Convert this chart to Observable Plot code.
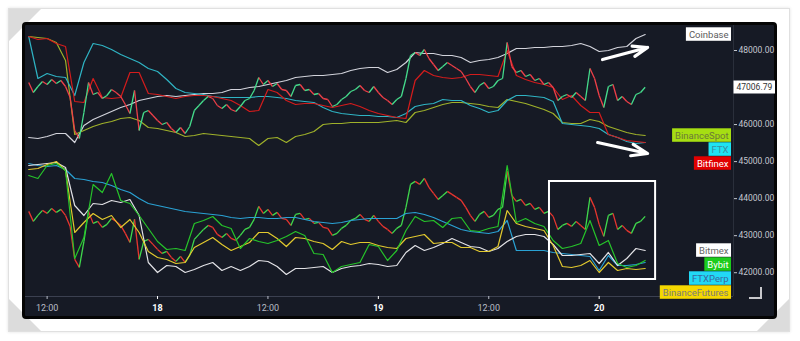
<!DOCTYPE html>
<html><head><meta charset="utf-8">
<script src="https://cdn.jsdelivr.net/npm/d3@7"></script>
<script src="https://cdn.jsdelivr.net/npm/@observablehq/plot@0.6"></script>
<style>
body{margin:0;background:#fff;}
#wrap{position:relative;width:800px;height:341px;overflow:hidden;background:#fff;font-family:Roboto,sans-serif}
.outer{position:absolute;left:8px;top:8px;width:780px;height:322px;border:1px solid #e0e0e0;box-shadow:0 0 3px rgba(0,0,0,0.12);background:#fff}
.tri{position:absolute;width:0;height:0}
.panel{position:absolute;left:22px;top:22px;width:749px;height:291px;background:#161a25;border:3px solid #050505;border-radius:4px}
#chart{position:absolute;left:0;top:0}
.ic{position:absolute;background:#c8c8cc}
</style></head><body>
<div id="wrap">
 <div class="outer"></div>
 <div class="tri" style="left:9px;top:9px;border-top:32px solid #dcdcdc;border-right:32px solid transparent"></div>
 <div class="tri" style="left:9px;top:299px;border-bottom:32px solid #dcdcdc;border-right:32px solid transparent"></div>
 <div class="tri" style="left:757px;top:299px;border-bottom:32px solid #dcdcdc;border-left:32px solid transparent"></div>
 <div class="panel"></div>
 <div id="chart"></div>
 <div class="ic" style="left:749px;top:297px;width:13px;height:2px"></div>
 <div class="ic" style="left:760px;top:287px;width:2px;height:12px"></div>
</div>
<script>
// ---- data (prices, hourly from 2022-01-17 10:00 UTC) ----
const coinbase = [45651,45624,45678,45759,45759,45516,45975,46137,46245,46353,
46461,46542,46650,46704,46758,46785,46758,46785,46812,46839,
46839,46866,46947,46947,47001,47028,47082,47136,47190,47271,
47298,47325,47325,47352,47379,47460,47514,47541,47541,47406,
47487,47676,47946,47919,47919,47865,47865,47811,47676,47730,
47757,47811,47919,48054,48054,48081,48081,48108,48108,48135,
48189,48108,47973,48000,48081,48108,48324,48432];
const binanceSpot = [48378,48351,48324,48216,47730,45732,45840,45948,46029,46083,
46164,46191,46110,45921,45894,45840,45786,45678,45705,45759,
45732,45705,45678,45651,45624,45435,45624,45651,45516,45678,
45732,45813,46002,46029,46029,46056,46056,46056,46056,46083,
46110,46056,46326,46380,46461,46542,46596,46596,46569,46542,
46488,46461,46677,46623,46569,46488,46407,46299,46056,46029,
46029,46137,46083,45948,45867,45786,45732,45705];
const ftx = [48378,47244,47379,47298,47271,46785,47676,48189,48135,48027,
47892,47784,47676,47514,47433,47217,46974,46866,46839,46812,
46758,46731,46731,46731,46731,46758,46758,46731,46704,46650,
46623,46596,46461,46353,46299,46272,46245,46245,46218,46218,
46191,46299,46488,46542,46569,46677,46650,46650,46515,46434,
46326,46380,46650,46785,46785,46758,46731,46623,46029,46002,
45975,45948,45894,45732,45651,45543,45489,45516];
const bitfinex = [48378,48297,48324,48189,48108,46623,46596,47244,46731,46704,
46731,47406,47406,46839,46812,46758,46704,46758,46785,46785,
46758,46704,46650,46515,46353,46380,46947,46866,46650,46542,
46569,46569,46515,46461,46515,46569,46488,46380,46299,46245,
46191,46164,47190,47460,47325,47271,47244,47271,47352,47352,
47325,47298,48000,47325,47217,47136,47082,47001,46677,46785,
46515,46326,46326,45732,45651,45570,45543,45516];
const bitmex = [44895,44922,44949,44976,44841,43815,43545,43869,43842,43950,
43896,43977,43545,42276,42006,42195,42168,42006,42087,42195,
42276,42060,42168,42060,42168,42330,42303,42168,41952,42114,
42114,42141,42168,42006,42114,42168,42195,42249,42222,42168,
42195,42546,42735,42600,42681,42789,42924,42816,42708,42681,
42573,42654,42843,42978,43032,43032,42978,42762,42465,42465,
42492,42519,42249,42546,42195,42384,42654,42600];
const bybit = [44625,44544,44895,44949,44760,42384,42951,44382,44166,44679,
43950,43869,43545,43194,42843,42627,42654,42600,43329,43410,
43518,43275,43194,42654,42924,42843,42789,42870,42978,43113,
43005,42519,42492,42006,42168,42222,42276,42762,42708,42330,
42600,43140,43518,43383,43410,43221,43464,43491,43140,43113,
43194,43248,44895,43356,43464,43329,43248,42870,42654,42708,
42789,43410,42735,42870,42249,42141,42195,42330];
const ftxPerp = [44949,44895,44868,44895,44787,44544,44517,44463,44436,44355,
44247,44166,44004,43869,43815,43761,43707,43653,43626,43599,
43572,43545,43491,43464,43491,43491,43464,43464,43491,43491,
43437,43383,43356,43329,43356,43410,43437,43464,43464,43464,
43464,43599,43626,43572,43491,43383,43275,43167,43113,43086,
43059,43113,43410,42600,42600,42600,42600,42546,42519,42492,
42465,42438,42060,42465,42195,42195,42222,42276];
const binanceFutures = [44787,44814,44922,45003,44760,43086,43356,43599,43437,43545,
43221,43437,43086,42573,42411,42357,42249,42276,42681,42816,
42951,42762,42600,42708,42816,43086,43086,42924,42708,42951,
42924,42843,42789,42627,42843,42762,42816,42816,42735,42681,
42654,42924,42978,43032,42789,42816,42816,42681,42681,42573,
42573,42708,43680,43329,43248,43194,43140,42735,42168,42141,
42195,42330,42006,42276,42060,42114,42087,42114];
// half-hourly price lines drawn as up/down coloured segments
const spotCandle = [47136,46866,47028,47163,47082,47217,47109,47190,47028,46731,
45840,45624,46326,47136,46812,46866,46704,46785,46947,46866,
46758,46542,46299,46920,45840,46326,46380,46245,46110,46002,
46056,45894,45786,45921,45759,45948,46380,46515,46650,46758,
46704,46515,46434,46542,46407,46353,46488,46650,46704,46920,
47271,47082,47190,47028,47109,46947,46920,46758,47055,47082,
46920,46947,46812,46839,46704,46677,46488,46542,46677,46758,
46893,46947,47055,46920,46866,47028,46866,46731,46650,46542,
46677,46758,47244,47865,47946,47865,48027,47784,47622,47460,
47568,47676,47595,47514,47433,47244,47028,46866,47055,47136,
46974,47028,47190,47244,48216,47568,47406,47460,47298,47352,
47190,47244,47082,47136,47001,46650,46758,46812,46731,46866,
46758,46650,47514,47244,46785,46461,47028,47082,46650,46758,
46623,46542,46812,46866,47006.79];
const perpCandle = [43656,43386,43548,43683,43602,43737,43629,43710,43548,43251,
42360,42144,42846,43656,43332,43386,43224,43305,43467,43386,
43278,43062,42819,43440,42360,42846,42900,42765,42630,42522,
42576,42414,42306,42441,42279,42468,42900,43035,43170,43278,
43224,43035,42954,43062,42927,42873,43008,43170,43224,43440,
43791,43602,43710,43548,43629,43467,43440,43278,43575,43602,
43440,43467,43332,43359,43224,43197,43008,43062,43197,43278,
43413,43467,43575,43440,43386,43548,43386,43251,43170,43062,
43197,43278,43764,44385,44466,44385,44547,44304,44142,43980,
44088,44196,44115,44034,43953,43764,43548,43386,43575,43656,
43494,43548,43710,43764,44736,44088,43926,43980,43818,43872,
43710,43764,43602,43656,43521,43170,43278,43332,43251,43386,
43278,43170,44034,43764,43305,42981,43548,43602,43170,43278,
43143,43062,43332,43386,43521];

// price scale ticks (47000 sits under the last-price tag)
const yTicks = [42000,43000,44000,45000,46000,48000];
const noonTicks = ["2022-01-17T12:00Z","2022-01-18T12:00Z","2022-01-19T12:00Z"].map(s => new Date(s));
const dayTicks = ["2022-01-18T00:00Z","2022-01-19T00:00Z","2022-01-20T00:00Z"].map(s => new Date(s));

// annotations (data space)
const arrows = [
  {t1:"2022-01-20T00:22Z", v1:47757, t2:"2022-01-20T05:16Z", v2:48081},
  {t1:"2022-01-19T23:50Z", v1:45516, t2:"2022-01-20T05:16Z", v2:45219}
];
const focusBox = [{t1:"2022-01-19T18:36Z", t2:"2022-01-20T06:08Z", v1:44463, v2:41817}];

// ---- build ----
const start = Date.UTC(2022, 0, 17, 10);
const HOUR = 3600000;
const hourTimes = d3.range(coinbase.length).map(i => new Date(start + i * HOUR));
const halfTimes = d3.range(spotCandle.length).map(i => new Date(start + i * HOUR / 2));
const yDomain = [41358, 48675];
const xDomain = [new Date("2022-01-17T09:39Z"), new Date("2022-01-20T14:36Z")];

const series = [
  {name:"Coinbase", values:coinbase, color:"#d2d3db", box:"#ffffff", text:"#5c5c5c"},
  {name:"BinanceSpot", values:binanceSpot, color:"#9fb12a", box:"#a6de12", text:"#6c7a38"},
  {name:"FTX", values:ftx, color:"#2fb4c4", box:"#1fe3f2", text:"#3a8ea2"},
  {name:"Bitfinex", values:bitfinex, color:"#d41c1c", box:"#e00000", text:"#ffffff"},
  {name:"Bitmex", values:bitmex, color:"#e2e2e6", box:"#ffffff", text:"#666666"},
  {name:"Bybit", values:bybit, color:"#26c42a", box:"#1ccc1c", text:"#ffffff"},
  {name:"FTXPerp", values:ftxPerp, color:"#2aa2d4", box:"#22d8f5", text:"#3a68a0"},
  {name:"BinanceFutures", values:binanceFutures, color:"#e2c92e", box:"#f5d800", text:"#7a7a7a"}
];
const byName = Object.fromEntries(series.map(s => [s.name, s]));
const pts = s => s.values.map((v, i) => ({t: hourTimes[i], v}));
const segs = (vals, up, down) => d3.range(1, vals.length).map(i => ({
  t1: halfTimes[i-1], v1: vals[i-1], t2: halfTimes[i], v2: vals[i],
  c: vals[i] >= vals[i-1] ? up : down}));

const lineMark = name => Plot.line(pts(byName[name]), {x:"t", y:"v", stroke: byName[name].color, strokeWidth:1.2});

// label positions: last values, pushed apart to avoid overlap
const yScale = Plot.scale({y: {domain: yDomain, range: [296, 25]}});
const labels = series.map(s => ({...s, last: s.values[s.values.length - 1]}))
  .sort((a, b) => b.last - a.last);
let prev = -Infinity;
for (const l of labels) {
  let py = yScale.apply(l.last);
  if (py < prev + 14) py = prev + 14;
  prev = py;
  l.pos = yScale.invert(py);
}
const lastPrice = [{v: spotCandle[spotCandle.length - 1]}];

const chart = Plot.plot({
  width: 800, height: 341,
  marginLeft: 25, marginRight: 67, marginTop: 25, marginBottom: 45,
  style: {background: "transparent", fontFamily: "Roboto, sans-serif", overflow: "visible", color: "#c4c7cf"},
  x: {type: "utc", domain: xDomain},
  y: {domain: yDomain, range: [296, 25]},
  color: {type: "identity"},
  marks: [
    Plot.ruleY([yDomain[0]], {stroke: "#3b4050"}),
    Plot.ruleX([xDomain[1]], {stroke: "#2a2f3b"}),
    Plot.axisY({anchor: "right", ticks: yTicks, tickFormat: d => d.toFixed(2), tickSize: 3, tickPadding: 2, fontSize: 8.5, color: "#c4c7cf", label: null}),
    Plot.axisX({ticks: noonTicks, tickFormat: () => "12:00", tickSize: 3, tickPadding: 5, fontSize: 9, color: "#b8bcc6", label: null}),
    Plot.axisX({ticks: dayTicks, tickFormat: d => String(d.getUTCDate()), tickSize: 3, tickPadding: 5, fontSize: 9, fontWeight: "bold", color: "#ffffff", label: null}),
    // top group
    lineMark("Coinbase"),
    lineMark("BinanceSpot"),
    lineMark("FTX"),
    lineMark("Bitfinex"),
    Plot.link(segs(spotCandle, "#45dc8c", "#ef3f48"), {x1:"t1", y1:"v1", x2:"t2", y2:"v2", stroke:"c", strokeWidth:1.3}),
    // bottom group
    Plot.link(segs(perpCandle, "#3fd84c", "#e8352f"), {x1:"t1", y1:"v1", x2:"t2", y2:"v2", stroke:"c", strokeWidth:1.3}),
    lineMark("FTXPerp"),
    lineMark("Bitmex"),
    lineMark("BinanceFutures"),
    lineMark("Bybit"),
    // annotations
    Plot.rect(focusBox, {x1: d => new Date(d.t1), x2: d => new Date(d.t2), y1:"v1", y2:"v2", fill:"none", stroke:"#ffffff", strokeWidth:2}),
    Plot.arrow(arrows, {x1: d => new Date(d.t1), y1:"v1", x2: d => new Date(d.t2), y2:"v2", stroke:"#ffffff", strokeWidth:3.2, headLength:9, headAngle:40}),
    // labels
    Plot.text(labels, {y:"pos", frameAnchor:"right", dx:-5, textAnchor:"end", text:"name", fill:"text", fontSize:9.5, className:"lbl"}),
    Plot.text(lastPrice, {y:"v", frameAnchor:"right", dx:3, textAnchor:"start", text: d => d.v.toFixed(2), fill:"#333333", fontSize:8.5, className:"plbl"})
  ]
});
document.getElementById("chart").append(chart);

// boxes behind labels
const svgRect = chart.getBoundingClientRect();
function boxes(cls, fills, right, h) {
  const g = chart.querySelector("g." + cls);
  if (!g) return;
  const bg = document.createElementNS("http://www.w3.org/2000/svg", "g");
  g.parentNode.insertBefore(bg, g);
  g.querySelectorAll("text").forEach((el, i) => {
    const r = el.getBoundingClientRect();
    const cy = (r.top + r.bottom) / 2 - svgRect.top;
    const x1 = r.left - svgRect.left - 3;
    const x2 = right != null ? right : r.right - svgRect.left + 3;
    const rect = document.createElementNS("http://www.w3.org/2000/svg", "rect");
    rect.setAttribute("x", x1); rect.setAttribute("width", x2 - x1);
    rect.setAttribute("y", cy - h / 2); rect.setAttribute("height", h);
    rect.setAttribute("fill", fills[i]);
    bg.append(rect);
  });
}
boxes("lbl", labels.map(l => l.box), 731, 13.5);
boxes("plbl", ["#ffffff"], 775, 13);
</script>
</body></html>
